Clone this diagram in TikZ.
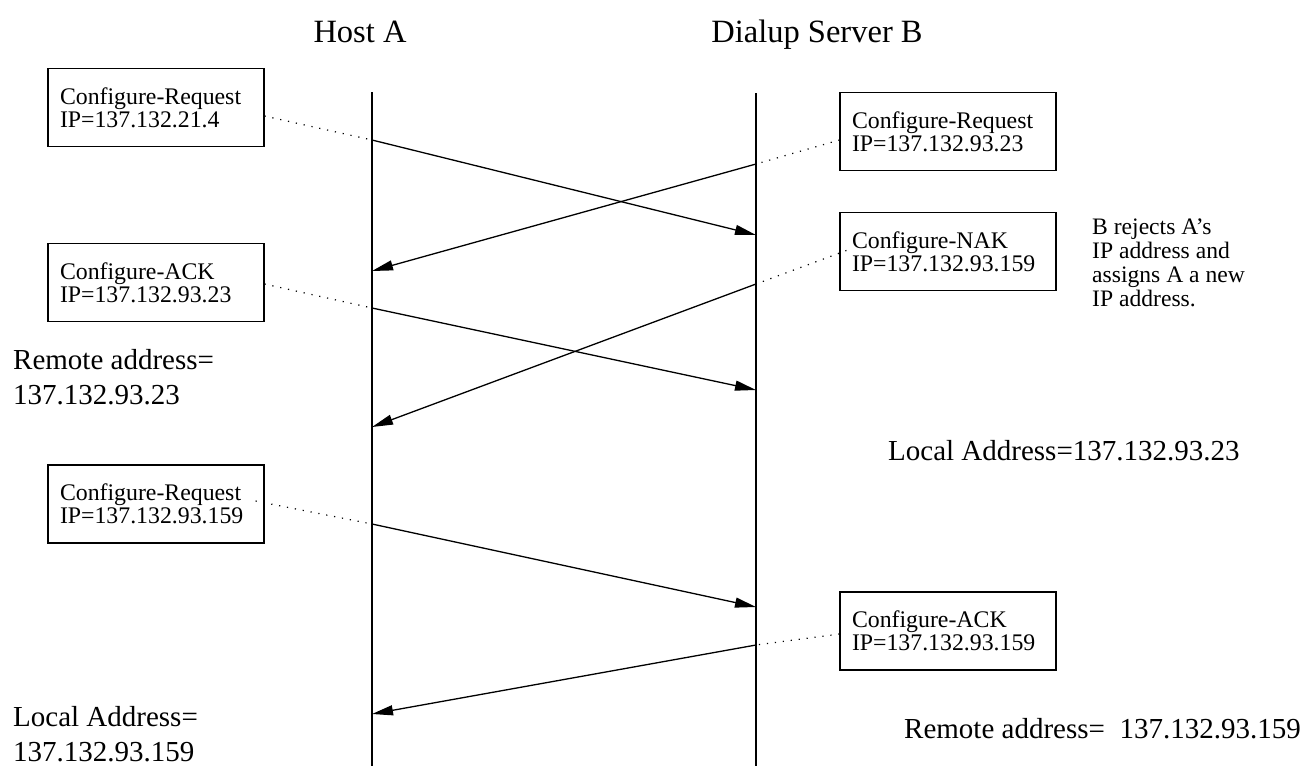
\documentclass[tikz,border=0pt]{standalone}
\usepackage{fontspec}
\setmainfont{Liberation Serif}
\usetikzlibrary{arrows.meta}
\begin{document}
\begin{tikzpicture}[x=1pt,y=-1pt,
  lifeline/.style={line width=2pt},
  msgbox/.style={draw, line width=1.1pt, minimum width=216pt, minimum height=78pt,
    inner xsep=12pt, inner ysep=0pt, text width=192pt, align=left,
    font=\fontsize{23.8}{23}\selectfont},
  msg/.style={line width=1.3pt, -{Triangle[length=21pt,width=10pt]}},
  lead/.style={line width=1.2pt, dash pattern=on 1.2pt off 6.8pt},
  head/.style={inner sep=0pt, font=\fontsize{32.5}{39}\selectfont},
  addr/.style={inner sep=0pt, align=left, font=\fontsize{29}{35}\selectfont},
  remark/.style={inner sep=0pt, align=left, font=\fontsize{23.6}{24}\selectfont}]

% page
\fill[white] (0,0) rectangle (1314,766);
\useasboundingbox (0,0) rectangle (1314,766);

% column titles
\node[head, anchor=base] (hostA) at (360,42) {Host A};
\node[head, anchor=base] (srvB) at (817,42) {Dialup Server B};

% lifelines
\coordinate (aTop) at (372,92);
\coordinate (aBot) at (372,766);
\coordinate (bTop) at (756,93);
\coordinate (bBot) at (756,766);
\draw[lifeline] (aTop) -- (aBot);
\draw[lifeline] (bTop) -- (bBot);

% packet boxes
\node[msgbox] (reqA)  at (156,107.5) {Configure-Request\\IP=137.132.21.4};
\node[msgbox] (ackA)  at (156,282.5) {Configure-ACK\\IP=137.132.93.23};
\node[msgbox] (reqA2) at (156,504)   {Configure-Request\\IP=137.132.93.159};
\node[msgbox] (reqB)  at (948,131.5) {Configure-Request\\IP=137.132.93.23};
\node[msgbox] (nakB)  at (948,251.5) {Configure-NAK\\IP=137.132.93.159};
\node[msgbox] (ackB)  at (948,631)   {Configure-ACK\\IP=137.132.93.159};

% points where the packets leave and reach the lifelines
\coordinate (a1) at (372,140); \coordinate (b1) at (756,235);
\coordinate (b2) at (756,164); \coordinate (a2) at (372,271);
\coordinate (a3) at (372,308); \coordinate (b3) at (756,390);
\coordinate (b4) at (756,284); \coordinate (a4) at (372,427);
\coordinate (a5) at (372,524); \coordinate (b5) at (756,607);
\coordinate (b6) at (756,645); \coordinate (a6) at (372,714);

% leaders from the boxes to the lifelines
\draw[lead] ([yshift=-8.5pt]reqA.east) -- (a1);
\draw[lead] ([yshift=-8.5pt]reqB.west) -- (b2);
\draw[lead] ([yshift=-1.5pt]ackA.east) -- (a3);
\draw[lead] ([xshift=7pt,yshift=1pt]nakB.west) -- (b4);
\draw[lead] ([xshift=-9pt,yshift=3pt]reqA2.east) -- (a5);
\draw[lead] ([yshift=-3pt]ackB.west) -- (b6);

% messages
\draw[msg] (a1) -- (b1);
\draw[msg] (b2) -- (a2);
\draw[msg] (a3) -- (b3);
\draw[msg] (b4) -- (a4);
\draw[msg] (a5) -- (b5);
\draw[msg] (b6) -- (a6);

% address notes
\node[addr, anchor=north west] (remA) at (13,349.5) {Remote address=\\137.132.93.23};
\node[addr, anchor=base west] (locB) at (888,460) {Local Address=137.132.93.23};
\node[addr, anchor=north west] (locA) at (13,706) {Local Address=\\137.132.93.159};
\node[addr, anchor=base west] (remB) at (904,738) {Remote address=\ \ 137.132.93.159};
\node[remark, anchor=north west] (why) at (1092,219)
  {B rejects A’s\\IP address and\\assigns A a new\\IP address.};
\end{tikzpicture}
\end{document}
